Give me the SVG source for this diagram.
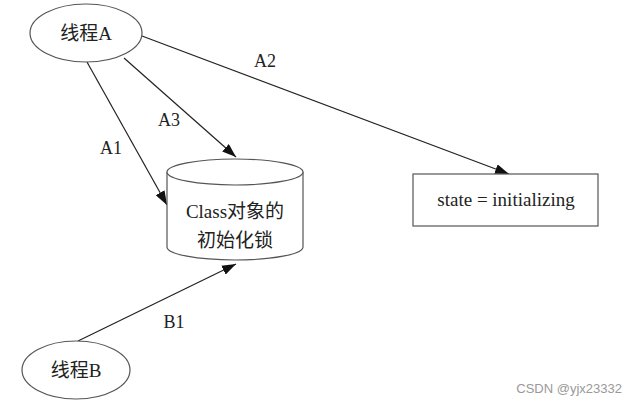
<svg xmlns="http://www.w3.org/2000/svg" width="636" height="407" viewBox="0 0 636 407">
<defs>
<style>
.shape{fill:#fff;stroke:#555;stroke-width:1.2}
.t{font-family:"Liberation Serif","Noto Sans CJK SC",serif;font-size:19px;fill:#222;text-anchor:middle}
.l{font-family:"Liberation Serif",serif;font-size:18px;fill:#222;text-anchor:middle}
.c{stroke:#222;stroke-width:1.2;fill:none;marker-end:url(#ah)}
</style>
<marker id="ah" markerWidth="14" markerHeight="10" refX="14" refY="5" orient="auto" markerUnits="userSpaceOnUse">
<path d="M0,0 L14,5 L0,10 Z" fill="#111"/>
</marker>
</defs>
<rect width="636" height="407" fill="#fff"/>
<g id="connectors">
<line class="c" x1="87" y1="62" x2="167" y2="205"/>
<line class="c" x1="124" y1="58" x2="236" y2="157"/>
<line class="c" x1="142" y1="36" x2="509" y2="174"/>
<line class="c" x1="78" y1="341" x2="236" y2="264"/>
<text class="l" x="111" y="154">A1</text>
<text class="l" x="169" y="126">A3</text>
<text class="l" x="265" y="67">A2</text>
<text class="l" x="174" y="328">B1</text>
</g>
<g id="threadA">
<ellipse class="shape" cx="86" cy="33" rx="56" ry="29"/>
<text class="t" x="86" y="40">线程A</text>
</g>
<g id="threadB">
<ellipse class="shape" cx="76" cy="370" rx="54" ry="29"/>
<text class="t" x="76" y="377">线程B</text>
</g>
<g id="lock">
<path class="shape" d="M167,172 A68,13 0 0 1 303,172 L303,247 A68,13 0 0 1 167,247 Z"/>
<path class="shape" d="M167,172 A68,13 0 0 0 303,172" fill="none"/>
<text class="t" x="235" y="218">Class对象的</text>
<text class="t" x="235" y="247">初始化锁</text>
</g>
<g id="state">
<rect class="shape" x="413" y="174" width="185" height="52"/>
<text class="t" x="506" y="206">state = initializing</text>
</g>
<text x="622" y="393" font-family="Liberation Sans,Arial,sans-serif" font-size="13" fill="#999" text-anchor="end">CSDN @yjx23332</text>
</svg>
